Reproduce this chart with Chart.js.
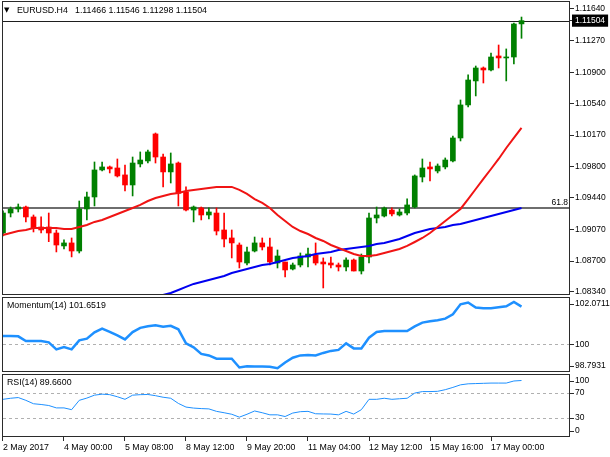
<!DOCTYPE html>
<html>
<head>
<meta charset="utf-8">
<title>EURUSD H4</title>
<script src="https://cdn.jsdelivr.net/npm/chart.js@4.4.1/dist/chart.umd.min.js"></script>
<style>
  html, body { margin: 0; padding: 0; background: #ffffff; }
  #wrap { position: relative; width: 610px; height: 457px; overflow: hidden; background: #ffffff; }
  #wrap canvas { position: absolute; left: 0; }
</style>
</head>
<body>
<div id="wrap">
  <canvas id="cMain" width="610" height="297" style="top:0px"></canvas>
  <canvas id="cMom" width="610" height="77" style="top:296px"></canvas>
  <canvas id="cRsi" width="610" height="84" style="top:373px"></canvas>
</div>
<script>
// ---------------- DATA ----------------
const symbolName = 'EURUSD.H4';

const barTimes = [
  '2 May 16:00', '2 May 20:00',
  '3 May 00:00', '3 May 04:00', '3 May 08:00', '3 May 12:00', '3 May 16:00', '3 May 20:00',
  '4 May 00:00', '4 May 04:00', '4 May 08:00', '4 May 12:00', '4 May 16:00', '4 May 20:00',
  '5 May 00:00', '5 May 04:00', '5 May 08:00', '5 May 12:00', '5 May 16:00', '5 May 20:00',
  '7 May 20:00',
  '8 May 00:00', '8 May 04:00', '8 May 08:00', '8 May 12:00', '8 May 16:00', '8 May 20:00',
  '9 May 00:00', '9 May 04:00', '9 May 08:00', '9 May 12:00', '9 May 16:00', '9 May 20:00',
  '10 May 00:00', '10 May 04:00', '10 May 08:00', '10 May 12:00', '10 May 16:00', '10 May 20:00',
  '11 May 00:00', '11 May 04:00', '11 May 08:00', '11 May 12:00', '11 May 16:00', '11 May 20:00',
  '12 May 00:00', '12 May 04:00', '12 May 08:00', '12 May 12:00', '12 May 16:00', '12 May 20:00',
  '14 May 20:00',
  '15 May 00:00', '15 May 04:00', '15 May 08:00', '15 May 12:00', '15 May 16:00', '15 May 20:00',
  '16 May 00:00', '16 May 04:00', '16 May 08:00', '16 May 12:00', '16 May 16:00', '16 May 20:00',
  '17 May 00:00', '17 May 04:00', '17 May 08:00', '17 May 12:00', '17 May 16:00'
];

const tickBars = [0, 8, 16, 24, 32, 40, 48, 56, 64];
const tickLabels = ['2 May 2017', '4 May 00:00', '5 May 08:00', '8 May 12:00', '9 May 20:00',
                    '11 May 04:00', '12 May 12:00', '15 May 16:00', '17 May 00:00'];

const openP = [
  1.09028, 1.09261, 1.09308, 1.09331, 1.09215, 1.09098, 1.09098, 1.09028, 1.08877, 1.08912,
  1.08818, 1.09308, 1.09448, 1.09763, 1.09798, 1.09786, 1.09705, 1.09588, 1.09833, 1.09868,
  1.10183, 1.09914, 1.09740, 1.09844, 1.09506, 1.09296, 1.09320, 1.09238, 1.09261, 1.09063,
  1.08970, 1.08888, 1.08678, 1.08818, 1.08912, 1.08865, 1.08678, 1.08690, 1.08608, 1.08655,
  1.08748, 1.08772, 1.08690, 1.08678, 1.08655, 1.08632, 1.08713, 1.08585, 1.08748, 1.09203,
  1.09226, 1.09296, 1.09238, 1.09261, 1.09331, 1.09681, 1.09798, 1.09751, 1.09798, 1.09868,
  1.10136, 1.10521, 1.10801, 1.10952, 1.10929, 1.11092, 1.11069, 1.11080, 1.11466
];
const highP = [
  1.09285, 1.09331, 1.09366, 1.09343, 1.09238, 1.09215, 1.09261, 1.09063, 1.08947, 1.08970,
  1.09401, 1.09506, 1.09856, 1.09856, 1.09809, 1.09891, 1.09821, 1.09914, 1.09973, 1.09996,
  1.10194, 1.09949, 1.09961, 1.09856, 1.09565, 1.09343, 1.09331, 1.09320, 1.09320, 1.09261,
  1.09063, 1.08912, 1.08865, 1.08981, 1.08970, 1.08970, 1.08830, 1.08690, 1.08678, 1.08795,
  1.08853, 1.08912, 1.08737, 1.08748, 1.08678, 1.08737, 1.08725, 1.08783, 1.09261, 1.09331,
  1.09331, 1.09320, 1.09308, 1.09425, 1.09705, 1.09891, 1.09856, 1.09833, 1.09903, 1.10159,
  1.10579, 1.10871, 1.10975, 1.10964, 1.11127, 1.11220, 1.11174, 1.11477, 1.11546
];
const lowP = [
  1.08993, 1.09215, 1.09273, 1.09157, 1.09040, 1.09028, 1.08927, 1.08807, 1.08842, 1.08749,
  1.08795, 1.09180, 1.09343, 1.09751, 1.09728, 1.09681, 1.09518, 1.09460, 1.09798, 1.09844,
  1.09844, 1.09565, 1.09611, 1.09343, 1.09285, 1.09157, 1.09180, 1.09191, 1.09005, 1.08865,
  1.08737, 1.08620, 1.08655, 1.08807, 1.08830, 1.08655, 1.08620, 1.08515, 1.08597, 1.08632,
  1.08632, 1.08655, 1.08387, 1.08620, 1.08585, 1.08585, 1.08585, 1.08550, 1.08678, 1.09145,
  1.09215, 1.09226, 1.09226, 1.09238, 1.09320, 1.09623, 1.09635, 1.09728, 1.09775, 1.09856,
  1.10101, 1.10497, 1.10626, 1.10777, 1.10917, 1.10952, 1.10801, 1.10999, 1.11298
];
const closeP = [
  1.09261, 1.09308, 1.09331, 1.09215, 1.09087, 1.09063, 1.09028, 1.08888, 1.08912, 1.08818,
  1.09308, 1.09448, 1.09763, 1.09798, 1.09775, 1.09693, 1.09588, 1.09844, 1.09879, 1.09973,
  1.09914, 1.09740, 1.09833, 1.09491, 1.09296, 1.09331, 1.09238, 1.09273, 1.09051, 1.08958,
  1.08912, 1.08690, 1.08807, 1.08912, 1.08865, 1.08690, 1.08760, 1.08597, 1.08655, 1.08760,
  1.08783, 1.08678, 1.08667, 1.08655, 1.08632, 1.08713, 1.08585, 1.08748, 1.09203, 1.09238,
  1.09320, 1.09250, 1.09273, 1.09355, 1.09693, 1.09786, 1.09775, 1.09809, 1.09879, 1.10136,
  1.10521, 1.10812, 1.10952, 1.10929, 1.11080, 1.11069, 1.11080, 1.11465, 1.11504
];

// red moving average
const maFast = [
  1.09005, 1.09028, 1.09051, 1.09063, 1.09087, 1.09087, 1.09087, 1.09087, 1.09075, 1.09075,
  1.09098, 1.09122, 1.09157, 1.09180, 1.09215, 1.09250, 1.09285, 1.09320, 1.09355, 1.09401,
  1.09436, 1.09460, 1.09483, 1.09495, 1.09518, 1.09530, 1.09541, 1.09553, 1.09565, 1.09565,
  1.09565, 1.09530, 1.09483, 1.09424, 1.09378, 1.09320, 1.09238, 1.09168, 1.09098, 1.09051,
  1.09016, 1.08970, 1.08935, 1.08888, 1.08853, 1.08818, 1.08783, 1.08760, 1.08760, 1.08772,
  1.08795, 1.08818, 1.08842, 1.08877, 1.08923, 1.08970, 1.09028, 1.09098, 1.09168, 1.09238,
  1.09308, 1.09424, 1.09541, 1.09658, 1.09774, 1.09891, 1.10019, 1.10136, 1.10253
];
// blue moving average (below the visible range before bar 21)
const maSlow = [
  null, null, null, null, null, null, null, null, null, null,
  null, null, null, null, null, null, null, null, 1.08224, 1.08247,
  1.08270, 1.08305, 1.08329, 1.08363, 1.08399, 1.08434, 1.08457, 1.08480, 1.08503, 1.08527,
  1.08562, 1.08585, 1.08608, 1.08632, 1.08655, 1.08667, 1.08690, 1.08713, 1.08737, 1.08748,
  1.08760, 1.08783, 1.08795, 1.08807, 1.08830, 1.08842, 1.08853, 1.08865, 1.08877, 1.08900,
  1.08912, 1.08935, 1.08958, 1.08993, 1.09028, 1.09051, 1.09075, 1.09087, 1.09098, 1.09122,
  1.09133, 1.09157, 1.09180, 1.09203, 1.09226, 1.09250, 1.09273, 1.09296, 1.09320
];

const fibLevel = 1.09320;
const fibText = '61.8';
const priceTicks = [1.11640, 1.11270, 1.10900, 1.10540, 1.10170, 1.09800, 1.09440, 1.09070, 1.08700, 1.08340];

const momentum = [
  100.364, 100.364, 100.351, 100.145, 100.145, 100.145, 100.088, 99.781, 99.882, 99.781,
  100.175, 100.250, 100.526, 100.689, 100.548, 100.395, 100.219, 100.539, 100.724, 100.789,
  100.833, 100.776, 100.811, 100.658, 100.044, 99.868, 99.583, 99.518, 99.373, 99.373,
  99.373, 98.991, 99.048, 99.035, 99.035, 99.022, 98.956, 99.211, 99.417, 99.518,
  99.539, 99.518, 99.627, 99.715, 99.759, 100.044, 99.825, 99.825, 100.294, 100.539,
  100.583, 100.583, 100.583, 100.583, 100.789, 100.952, 101.009, 101.053, 101.127, 101.316,
  101.754, 101.829, 101.610, 101.579, 101.579, 101.623, 101.667, 101.855, 101.6519
];
const momTicks = [102.0711, 100, 98.7931];
const momLevels = [100];

const rsi = [
  59.8, 61.5, 62.6, 58.2, 52.8, 51.6, 50.0, 46.2, 46.2, 43.4,
  58.2, 61.8, 66.4, 68.0, 67.2, 63.9, 59.8, 66.4, 67.2, 67.5,
  65.6, 63.1, 61.5, 53.3, 47.5, 45.9, 45.1, 44.6, 40.7, 38.5,
  36.1, 31.5, 36.1, 41.3, 38.5, 35.2, 35.2, 32.5, 38.0, 40.2,
  40.7, 36.9, 36.6, 36.4, 35.2, 40.7, 36.4, 43.4, 59.8, 59.8,
  61.5, 59.8, 60.7, 61.5, 69.7, 72.1, 72.1, 72.5, 75.1, 78.7,
  82.8, 84.4, 84.8, 85.2, 85.6, 85.6, 85.6, 88.9, 89.66
];
const rsiTicks = [100, 70, 30, 0];
const rsiLevels = [70, 30];

// ---------------- STYLE / LAYOUT ----------------
const FONT = '"Liberation Sans", Arial, sans-serif';
const BULL = '#008000', BEAR = '#ff0000';
const FRAME = '#2b2b2b';
const X_MIN = -0.13, X_MAX = 74.36;
const AXIS_W = 40;
const last = closeP.length - 1;
const lastClose = closeP[last];
const f5 = v => v.toFixed(5);

function noPad(s) {
  s.paddingTop = 0; s.paddingBottom = 0; s.paddingLeft = 0; s.paddingRight = 0;
}

const framePlugin = {
  id: 'frame',
  afterDraw(chart) {
    const { ctx, chartArea: a } = chart;
    ctx.save();
    ctx.strokeStyle = FRAME; ctx.lineWidth = 1;
    ctx.strokeRect(a.left + 0.5, a.top + 0.5, a.right - a.left - 1, a.bottom - a.top - 1);
    ctx.restore();
  }
};

const levelsPlugin = {
  id: 'levels',
  beforeDatasetsDraw(chart, args, opts) {
    const { ctx, chartArea: a } = chart;
    const ys = chart.scales.y;
    (opts.lines || []).forEach(l => {
      let py = Math.round(ys.getPixelForValue(l.value));
      if (l.width % 2 === 1) py += 0.5;
      ctx.save();
      ctx.strokeStyle = l.color; ctx.lineWidth = l.width;
      ctx.setLineDash(l.dash || []);
      ctx.beginPath(); ctx.moveTo(a.left + 1, py); ctx.lineTo(a.right - 1, py); ctx.stroke();
      if (l.text) {
        ctx.setLineDash([]);
        ctx.font = '8.5px ' + FONT; ctx.fillStyle = '#000';
        ctx.textAlign = 'right'; ctx.textBaseline = 'alphabetic';
        ctx.fillText(l.text, a.right - 2, py - 3);
      }
      ctx.restore();
    });
  }
};

const sideLabelsPlugin = {
  id: 'sideLabels',
  afterDraw(chart, args, opts) {
    if (!opts.ticks) return;
    const { ctx, chartArea: a } = chart;
    const ys = chart.scales.y;
    ctx.save();
    ctx.font = '8.5px ' + FONT; ctx.fillStyle = '#000';
    ctx.textAlign = 'left'; ctx.textBaseline = 'middle';
    ctx.strokeStyle = FRAME; ctx.lineWidth = 1;
    opts.ticks.forEach((v, i) => {
      let py = ys.getPixelForValue(v);
      py = Math.min(Math.max(py, a.top + 7), a.bottom - 6);
      const ty = Math.round(py) + 0.5;
      ctx.beginPath(); ctx.moveTo(a.right, ty); ctx.lineTo(a.right + 4, ty); ctx.stroke();
      ctx.fillText(opts.labels[i], a.right + 5, py);
    });
    ctx.restore();
  }
};

const captionPlugin = {
  id: 'caption',
  afterDraw(chart, args, opts) {
    if (!opts.parts) return;
    const { ctx } = chart;
    ctx.save();
    ctx.fillStyle = '#000'; ctx.textAlign = 'left'; ctx.textBaseline = 'middle';
    opts.parts.forEach(p => {
      ctx.font = p.size + 'px ' + (p.family || FONT);
      ctx.fillText(p.text, p.x, p.y);
    });
    ctx.restore();
  }
};

const hiddenX = { type: 'linear', min: X_MIN, max: X_MAX, offset: false, display: false };
const blankRightY = (min, max) => ({
  position: 'right', min, max,
  afterFit(s) { s.width = AXIS_W; noPad(s); },
  grid: { display: false }, border: { display: false },
  ticks: { display: false }
});

const commonOpts = {
  responsive: false, maintainAspectRatio: false, animation: false, events: [],
  plugins: { legend: { display: false }, tooltip: { enabled: false } }
};

// ---------------- MAIN PRICE CHART ----------------
const candleColor = barTimes.map((t, i) => closeP[i] >= openP[i] ? BULL : BEAR);

new Chart(document.getElementById('cMain'), {
  type: 'bar',
  data: {
    datasets: [
      { type: 'line', label: 'MA red', order: 0,
        data: maFast.map((v, i) => ({ x: i, y: v })),
        borderColor: '#f01414', borderWidth: 2, pointRadius: 0, tension: 0 },
      { type: 'line', label: 'MA blue', order: 0,
        data: maSlow.map((v, i) => ({ x: i, y: v })),
        borderColor: '#0000f0', borderWidth: 2, pointRadius: 0, tension: 0, spanGaps: false },
      { type: 'bar', label: 'body', order: 1, grouped: false,
        data: barTimes.map((t, i) => ({ x: i, y: [openP[i], closeP[i]] })),
        backgroundColor: candleColor, borderWidth: 0, barThickness: 5, minBarLength: 1 },
      { type: 'bar', label: 'wick', order: 2, grouped: false,
        data: barTimes.map((t, i) => ({ x: i, y: [lowP[i], highP[i]] })),
        backgroundColor: candleColor, borderWidth: 0, barThickness: 1, minBarLength: 1 }
    ]
  },
  options: Object.assign({}, commonOpts, {
    layout: { padding: { top: 1, bottom: 2, left: 2, right: 0 } },
    scales: {
      x: hiddenX,
      y: {
        position: 'right', min: 1.08305, max: 1.11733,
        afterFit(s) { s.width = AXIS_W; noPad(s); },
        afterBuildTicks(s) { s.ticks = priceTicks.concat([lastClose]).map(v => ({ value: v })); },
        grid: { drawOnChartArea: false, drawTicks: true, tickLength: 4, color: FRAME },
        border: { display: false },
        ticks: {
          autoSkip: false, padding: 1,
          font: { family: FONT, size: 8.5 },
          color: c => (c.tick && c.tick.value === lastClose) ? '#ffffff' : '#000000',
          showLabelBackdrop: c => !!(c.tick && c.tick.value === lastClose),
          backdropColor: '#000000',
          backdropPadding: { left: 3, right: 3, top: 1, bottom: 1 },
          callback: v => f5(v)
        }
      }
    },
    plugins: Object.assign({}, commonOpts.plugins, {
      levels: { lines: [
        { value: fibLevel, color: '#6e6e6e', width: 2, text: fibText },
        { value: lastClose, color: '#1e1e1e', width: 1 }
      ] },
      caption: { parts: [
        { text: '\u25BC', x: 4, y: 10, size: 7, family: '"DejaVu Sans", sans-serif' },
        { text: symbolName, x: 17, y: 10.5, size: 8.8 },
        { text: [openP[last], highP[last], lowP[last], closeP[last]].map(f5).join(' '), x: 75, y: 10.5, size: 8.8 }
      ] }
    })
  }),
  plugins: [levelsPlugin, framePlugin, captionPlugin]
});

// ---------------- MOMENTUM ----------------
new Chart(document.getElementById('cMom'), {
  type: 'line',
  data: {
    datasets: [{
      label: 'Momentum(14)',
      data: momentum.map((v, i) => ({ x: i, y: v })),
      borderColor: '#1e90ff', borderWidth: 2.5, pointRadius: 0, tension: 0
    }]
  },
  options: Object.assign({}, commonOpts, {
    layout: { padding: { top: 1, bottom: 1, left: 2, right: 0 } },
    scales: { x: hiddenX, y: blankRightY(momTicks[2], momTicks[0]) },
    plugins: Object.assign({}, commonOpts.plugins, {
      levels: { lines: momLevels.map(v => ({ value: v, color: '#b0b0b0', width: 1, dash: [3, 3] })) },
      sideLabels: { ticks: momTicks, labels: momTicks.map(v => String(v)) },
      caption: { parts: [
        { text: 'Momentum(14) ' + momentum[last].toFixed(4), x: 7, y: 10, size: 8.8 }
      ] }
    })
  }),
  plugins: [levelsPlugin, framePlugin, sideLabelsPlugin, captionPlugin]
});

// ---------------- RSI ----------------
new Chart(document.getElementById('cRsi'), {
  type: 'line',
  data: {
    datasets: [{
      label: 'RSI(14)',
      data: rsi.map((v, i) => ({ x: i, y: v })),
      borderColor: '#1e90ff', borderWidth: 1, pointRadius: 0, tension: 0
    }]
  },
  options: Object.assign({}, commonOpts, {
    layout: { padding: { top: 1, bottom: 0, left: 2, right: 0 } },
    scales: {
      x: {
        type: 'linear', min: X_MIN, max: X_MAX, offset: false,
        afterFit(s) { s.height = 20; noPad(s); },
        afterBuildTicks(s) { s.ticks = tickBars.map(v => ({ value: v })); },
        grid: { drawOnChartArea: false, drawTicks: true, tickLength: 4, color: FRAME },
        border: { display: false },
        ticks: {
          autoSkip: false, maxRotation: 0, minRotation: 0, align: 'start', padding: 1,
          font: { family: FONT, size: 8.8 }, color: '#000',
          callback: v => { const k = tickBars.indexOf(v); return k >= 0 ? tickLabels[k] : ''; }
        }
      },
      y: blankRightY(rsiTicks[3], rsiTicks[0])
    },
    plugins: Object.assign({}, commonOpts.plugins, {
      levels: { lines: rsiLevels.map(v => ({ value: v, color: '#b0b0b0', width: 1, dash: [3, 3] })) },
      sideLabels: { ticks: rsiTicks, labels: rsiTicks.map(v => String(v)) },
      caption: { parts: [
        { text: 'RSI(14) ' + rsi[last].toFixed(4), x: 7, y: 10, size: 8.8 }
      ] }
    })
  }),
  plugins: [levelsPlugin, framePlugin, sideLabelsPlugin, captionPlugin]
});
</script>
</body>
</html>
